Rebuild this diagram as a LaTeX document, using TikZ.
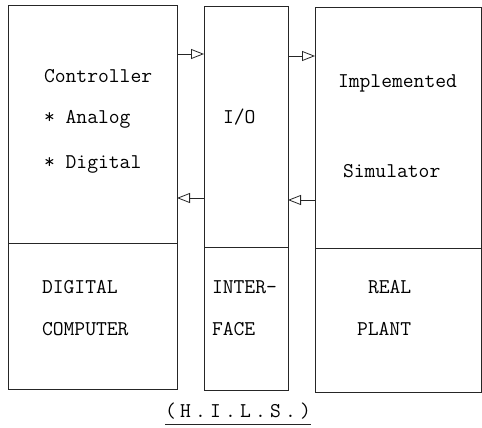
\documentclass[tikz,border=0pt]{standalone}
\usepackage{fontspec}
\usetikzlibrary{arrows.meta}
\newcommand{\capsp}{\kern4.2pt}
\tikzset{
  box/.style={draw=black!85, line width=0.8pt, inner sep=0pt, outer sep=0pt, anchor=north west},
  lbl/.style={anchor=base west, inner sep=0pt, outer sep=0pt, font=\fontsize{21}{25}\selectfont\ttfamily, text=black},
  arr/.style={draw=black!85, line width=0.8pt, -{Triangle[open, length=13pt, width=10pt, line width=0.8pt]}},
}
\begin{document}
\begin{tikzpicture}[x=1pt,y=-1pt]
\useasboundingbox (0,0) rectangle (482,428);
% boxes
\node[box, minimum width=169pt, minimum height=238pt] (ctrl) at (8,5) {};
\node[box, minimum width=169pt, minimum height=146pt] (dc) at (8,243) {};
\node[box, minimum width=84pt, minimum height=241pt] (io) at (204,6) {};
\node[box, minimum width=84pt, minimum height=143pt] (iface) at (204,247) {};
\node[box, minimum width=166pt, minimum height=241pt] (sim) at (315,7) {};
\node[box, minimum width=166pt, minimum height=144pt] (plant) at (315,248) {};
% texts
\node[lbl] (t1) at (44,83) {Controller};
\node[lbl] (t2) at (44,123) {* Analog};
\node[lbl] (t3) at (44,168) {* Digital};
\node[lbl] (t4) at (223,123) {I/O};
\node[lbl] (t5) at (338,88) {Implemented};
\node[lbl] (t6) at (343,177) {Simulator};
\node[lbl] (t7) at (42,293) {DIGITAL};
\node[lbl] (t8) at (42,335) {COMPUTER};
\node[lbl] (t9) at (212,293) {INTER-};
\node[lbl] (t10) at (212,335) {FACE};
\node[lbl] (t11) at (368,293) {REAL};
\node[lbl] (t12) at (357,335) {PLANT};
\node[lbl] (cap) at (165,417) {(\capsp H\capsp .\capsp I\capsp .\capsp L\capsp .\capsp S\capsp .\capsp )};
\draw[draw=black!85, line width=0.8pt] ([yshift=-7pt]cap.base west) -- ([yshift=-7pt]cap.base east);
% arrows
\coordinate (a1) at (0,54);
\coordinate (a2) at (0,56);
\coordinate (a3) at (0,198);
\coordinate (a4) at (0,200);
\draw[arr] (a1 -| ctrl.east) -- (a1 -| io.west);
\draw[arr] (a2 -| io.east) -- (a2 -| sim.west);
\draw[arr] (a3 -| io.west) -- (a3 -| ctrl.east);
\draw[arr] (a4 -| sim.west) -- (a4 -| io.east);
\end{tikzpicture}
\end{document}
